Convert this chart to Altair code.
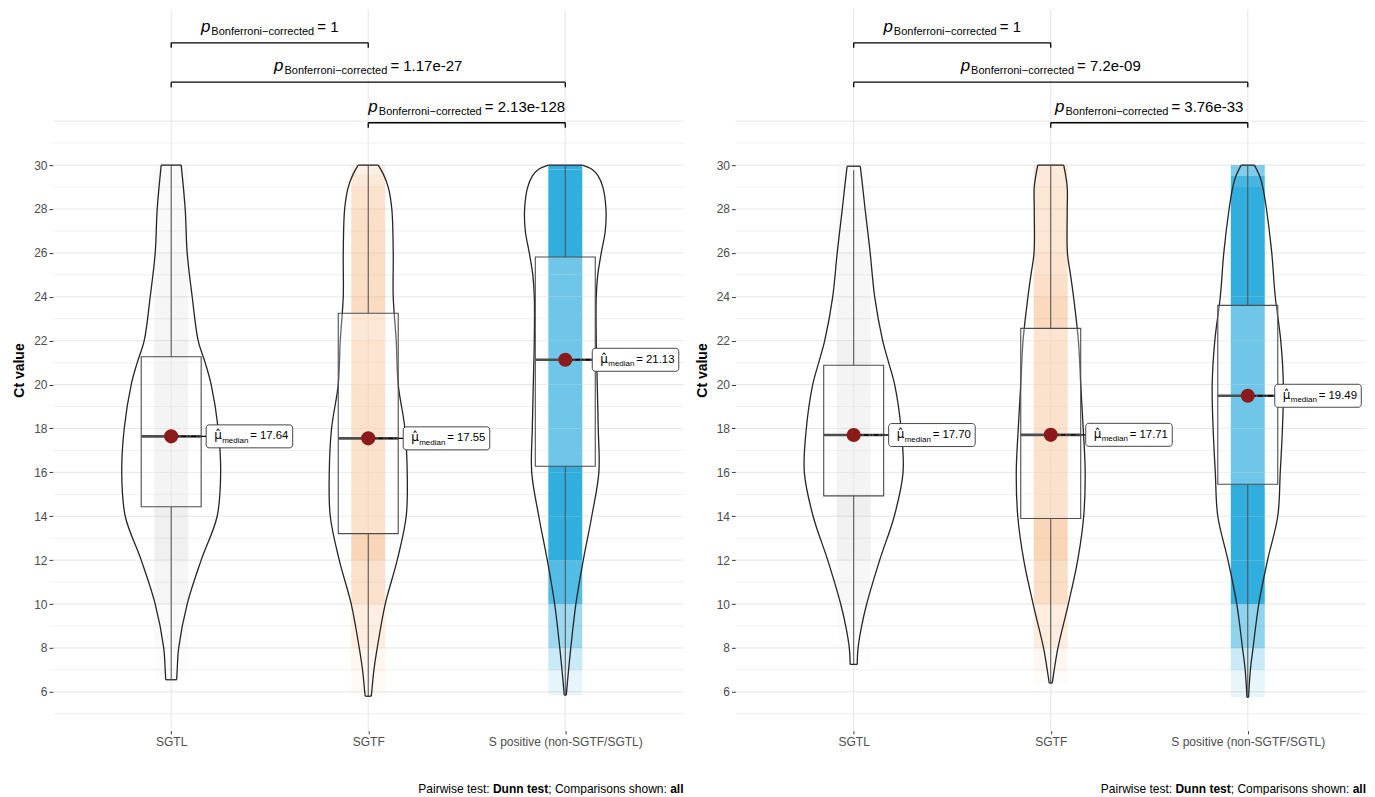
import altair as alt
import pandas as pd

# ---------------------------------------------------------------- data
GROUPS = ["SGTL", "SGTF", "S positive (non-SGTF/SGTL)"]
POINT_COLORS = ["#9a9a9a", "#f4a25e", "#22a8dc"]
POINT_GAIN = [0.2, 0.55, 2.2]       # how dark each jitter cloud looks
POINT_CAP = [0.16, 0.44, 0.93]

# violin outlines: Ct levels and half-width (px)
# left panel
A_SGTL_Y = [6.55, 7, 8, 10, 12, 14, 16, 18, 20, 21, 22, 24, 26, 28, 30]
A_SGTL_W = [5.5, 6, 7.5, 16, 30, 46, 49.5, 47, 40, 34, 27, 21, 16, 14, 10]
A_SGTF_Y = [5.8, 6, 7, 8, 10, 12, 14, 16, 18, 20, 22, 24, 26, 28, 29, 29.6, 30]
A_SGTF_W = [3, 3.5, 5.7, 9, 17, 29, 38, 39, 36.7, 30, 28, 25, 25, 23.6, 20, 15, 10]
A_SPOS_Y = [5.85, 7, 8, 10, 12, 14, 16, 18, 20, 22, 24, 25, 26, 27, 28, 29, 29.5, 29.8, 30]
A_SPOS_W = [1, 3.3, 5.5, 10.6, 18, 26.5, 33.6, 33, 32, 31, 31, 32.5, 36, 40, 40.7, 37.6, 33, 27, 17]
# right panel
B_SGTL_Y = [7.25, 8, 9, 10, 12, 14, 16, 18, 20, 21, 22, 24, 26, 28, 29, 29.95]
B_SGTL_W = [3.5, 4.4, 8, 13, 26, 40.6, 49.4, 47.4, 41, 35, 29, 21, 16.5, 11.4, 9, 6.6]
B_SGTF_Y = [6.4, 7, 8, 10, 12, 14, 16, 18, 20, 22, 24, 25, 26, 28, 29, 30]
B_SGTF_W = [1.5, 3.5, 7.2, 17.6, 27, 33, 34.5, 32.5, 30, 27.7, 22.8, 19.8, 16.7, 16.5, 16.5, 13]
B_SPOS_Y = [5.75, 7, 8, 10, 12, 14, 16, 18, 20, 22, 24, 26, 28, 29, 29.5, 30]
B_SPOS_W = [0.8, 2.6, 5.3, 11, 19.8, 30, 32.5, 34.7, 35.6, 33, 27.5, 24, 18.7, 15, 11.9, 6.6]

# box-plot statistics: min, Q1, median, Q3, max
A_MIN = [6.55, 5.8, 5.85]
A_Q1 = [14.43, 13.21, 16.28]
A_MED = [17.64, 17.55, 21.13]
A_Q3 = [21.27, 23.25, 25.81]
A_MAX = [30, 30, 30]
B_MIN = [7.25, 6.4, 5.75]
B_Q1 = [14.93, 13.9, 15.46]
B_MED = [17.70, 17.71, 19.49]
B_Q3 = [20.88, 22.56, 23.61]
B_MAX = [29.77, 30, 30]

# pairwise comparisons
PAIRS = [(0, 1), (0, 2), (1, 2)]
BRACKET_Y = [35.57, 33.78, 31.93]
A_P = ["1", "1.17e-27", "2.13e-128"]
B_P = ["1", "7.2e-09", "3.76e-33"]

GRID_Y = list(range(5, 33))
Y_TICKS = list(range(6, 31, 2))

# ---------------------------------------------------------------- layout
W, H = 631, 722
X_DOM = [-0.6, 2.6]
Y_DOM = [4.226, 37.10]
PX = W / (X_DOM[1] - X_DOM[0])
FONT = "Liberation Sans"
LABEL_DX = [35, 35, 27]

AR = {' ': 278, ':': 278, ';': 278, '.': 278, '-': 333, '=': 584, '\u2212': 584,
      'e': 556, 'P': 667, 'a': 556, 'i': 222, 'r': 333, 'w': 722, 's': 500, 't': 278,
      'C': 722, 'o': 556, 'm': 833, 'p': 556, 'n': 556, 'h': 556, 'B': 667, 'f': 278,
      'c': 500, 'd': 556, 'l': 222}
ARB = {' ': 278, 'D': 722, 'u': 611, 'n': 611, 't': 333, 'e': 556, 's': 556, 'a': 556, 'l': 278}


def tw(s, size, bold=False):
    tab = ARB if bold else AR
    return sum(tab.get(c, 556) for c in s) * size / 1000.0


xs = alt.Scale(domain=X_DOM, nice=False, zero=False)
ys = alt.Scale(domain=Y_DOM, nice=False, zero=False)
x_axis = alt.Axis(values=[0, 1, 2], title=None, grid=False, domain=False, ticks=True,
                  tickSize=3, tickColor="#333333", labelPadding=3, labelFontSize=12,
                  labelColor="#4D4D4D", labelFont=FONT, labelFlush=False, labelOverlap=False,
                  labelExpr="['SGTL','SGTF','S positive (non-SGTF/SGTL)'][datum.value]")
y_axis = alt.Axis(values=Y_TICKS, title="Ct value", grid=False, domain=False, ticks=True,
                  tickSize=4, tickColor="#333333", labelPadding=2, labelFontSize=12,
                  labelColor="#4D4D4D", labelFont=FONT, titleFont=FONT, titleFontSize=14,
                  titleFontWeight="bold", titleColor="black", titlePadding=7)


def X(f):
    return alt.X(f"{f}:Q", scale=xs, axis=x_axis)


def Y(f):
    return alt.Y(f"{f}:Q", scale=ys, axis=y_axis)


def panel(vy, vw, mn, q1, med, q3, mx, pvals):
    lrows, erows, crows = [], [], []
    for g in range(3):
        m = max(vw[g])
        for side, sgn in ((0, -1), (1, 1)):
            for y, w in zip(vy[g], vw[g]):
                lrows.append(dict(key=g * 2 + side, y=y, x=g + sgn * w / PX))
        for k in (0, -1):
            w = vw[g][k]
            erows.append(dict(y=vy[g][k], lo=g - w / PX, hi=g + w / PX))
        for i in range(len(vy[g]) - 1):
            w = (vw[g][i] + vw[g][i + 1]) / 2
            crows.append(dict(g=g, y=vy[g][i], y2=vy[g][i + 1], grp=GROUPS[g],
                              a=min(POINT_CAP[g], POINT_GAIN[g] * w / m)))
    ldf = pd.DataFrame(lrows)
    edf = pd.DataFrame(erows)
    cdf = pd.DataFrame(crows)
    sdf = pd.DataFrame(dict(g=[0, 1, 2], mn=mn, q1=q1, med=med, q3=q3, mx=mx,
                            lab=[f"= {v:.2f}" for v in med]))
    bdf = pd.DataFrame(dict(x1=[p[0] for p in PAIRS], x2=[p[1] for p in PAIRS],
                            y=BRACKET_Y, mid=[(p[0] + p[1]) / 2 for p in PAIRS],
                            val=["= " + p for p in pvals], i=[0, 1, 2]))
    gdf = pd.DataFrame(dict(v=GRID_Y, major=[v % 2 == 0 for v in GRID_Y]))
    xdf = pd.DataFrame(dict(g=[0, 1, 2]))

    layers = []
    layers.append(alt.Chart(gdf).mark_rule(strokeWidth=1).encode(
        y=Y("v"), x=alt.value(0), x2=alt.value(W),
        color=alt.condition("datum.major", alt.value("#E6E6E6"), alt.value("#EFEFEF"))))
    layers.append(alt.Chart(xdf).mark_rule(strokeWidth=1, color="#E6E6E6").encode(
        x=X("g"), y=alt.value(0), y2=alt.value(H)))
    # jitter clouds
    layers.append(alt.Chart(cdf).mark_rect(xOffset=-17, x2Offset=17, strokeWidth=0).encode(
        x=X("g"), x2=alt.X2("g"), y=Y("y"), y2=alt.Y2("y2"),
        color=alt.Color("grp:N", scale=alt.Scale(domain=GROUPS, range=POINT_COLORS), legend=None),
        opacity=alt.Opacity("a:Q", scale=None)))
    # violins: two curved sides and flat ends
    layers.append(alt.Chart(ldf).mark_line(interpolate="catmull-rom", color="#262626",
                                            strokeWidth=1.3).encode(
        x=X("x"), y=Y("y"), detail="key:N", order="y:Q"))
    layers.append(alt.Chart(edf).mark_rule(color="#262626", strokeWidth=1.3).encode(
        x=X("lo"), x2=alt.X2("hi"), y=Y("y")))
    # whiskers
    layers.append(alt.Chart(sdf).mark_rule(color="#4d4d4d", strokeWidth=1).encode(
        x=X("g"), y=Y("mn"), y2=alt.Y2("q1")))
    layers.append(alt.Chart(sdf).mark_rule(color="#4d4d4d", strokeWidth=1).encode(
        x=X("g"), y=Y("q3"), y2=alt.Y2("mx")))
    # boxes
    layers.append(alt.Chart(sdf).mark_rect(xOffset=-30, x2Offset=30, fill="white", fillOpacity=0.3,
                                            stroke="#4d4d4d", strokeWidth=1.1).encode(
        x=X("g"), x2=alt.X2("g"), y=Y("q1"), y2=alt.Y2("q3")))
    layers.append(alt.Chart(sdf).mark_rule(xOffset=-30, x2Offset=30, color="#4d4d4d",
                                            strokeWidth=2.6).encode(
        x=X("g"), x2=alt.X2("g"), y=Y("med")))
    # median labels
    for g in range(3):
        dx = LABEL_DX[g]
        one = alt.Chart(sdf).transform_filter(f"datum.g == {g}")
        layers.append(one.mark_rule(x2Offset=dx, color="black", strokeWidth=1.4,
                                    strokeDash=[5, 2, 1, 2]).encode(
            x=X("g"), x2=alt.X2("g"), y=Y("med")))
        layers.append(one.mark_rect(xOffset=dx, x2Offset=dx + 86.6, yOffset=-11.5, y2Offset=11.5,
                                    fill="white", stroke="#333333", strokeWidth=0.9,
                                    cornerRadius=3).encode(
            x=X("g"), x2=alt.X2("g"), y=Y("med"), y2=alt.Y2("med")))
        layers.append(one.mark_text(align="left", baseline="alphabetic", dx=dx + 8, dy=3,
                                    fontSize=12, font="DejaVu Sans", color="black").encode(
            x=X("g"), y=Y("med"), text=alt.value("\u03bc\u0302")))
        layers.append(one.mark_text(align="left", baseline="alphabetic", dx=dx + 16, dy=6.5,
                                    fontSize=8, font=FONT, color="black").encode(
            x=X("g"), y=Y("med"), text=alt.value("median")))
        layers.append(one.mark_text(align="left", baseline="alphabetic", dx=dx + 44, dy=3,
                                    fontSize=11.4, font=FONT, color="black").encode(
            x=X("g"), y=Y("med"), text="lab:N"))
    # median dots
    layers.append(alt.Chart(sdf).mark_circle(size=200, color="#8B1A1A", opacity=1).encode(
        x=X("g"), y=Y("med")))
    # brackets
    layers.append(alt.Chart(bdf).mark_rule(color="black", strokeWidth=1.3).encode(
        x=X("x1"), x2=alt.X2("x2"), y=Y("y")))
    for f in ("x1", "x2"):
        layers.append(alt.Chart(bdf).mark_rule(color="black", strokeWidth=1.3, y2Offset=5).encode(
            x=X(f), y=Y("y"), y2=alt.Y2("y")))
    sub = "Bonferroni\u2212corrected"
    pw, sw = tw("p", 17), tw(sub, 11)
    for i, pv in enumerate(pvals):
        vw_ = tw("= " + pv, 15)
        start = -(pw + 1 + sw + 3 + vw_) / 2
        one = alt.Chart(bdf).transform_filter(f"datum.i == {i}")
        layers.append(one.mark_text(align="left", baseline="alphabetic", dx=start, dy=-11,
                                    fontSize=17, fontStyle="italic", font=FONT, color="black").encode(
            x=X("mid"), y=Y("y"), text=alt.value("p")))
        layers.append(one.mark_text(align="left", baseline="alphabetic", dx=start + pw + 1, dy=-8,
                                    fontSize=11, font=FONT, color="black").encode(
            x=X("mid"), y=Y("y"), text=alt.value(sub)))
        layers.append(one.mark_text(align="left", baseline="alphabetic", dx=start + pw + 1 + sw + 3,
                                    dy=-11, fontSize=15, font=FONT, color="black").encode(
            x=X("mid"), y=Y("y"), text="val:N"))
    # caption (right-aligned, built from right to left)
    one_row = pd.DataFrame(dict(k=[0]))
    pieces = [("Pairwise test:", False, True), ("Dunn test", True, False),
              ("; Comparisons shown:", False, True), ("all", True, False)]
    fs = 12
    off = 0.0
    for txt, bold, space_after in reversed(pieces):
        if space_after:
            off += tw(" ", fs)
        layers.append(alt.Chart(one_row).mark_text(
            align="right", baseline="alphabetic", dx=-off, fontSize=fs, font=FONT,
            fontWeight="bold" if bold else "normal", color="black").encode(
            x=alt.value(W), y=alt.value(H + 62), text=alt.value(txt)))
        off += tw(txt, fs, bold)
    return alt.layer(*layers).properties(
        width=W, height=H, view=alt.ViewBackground(stroke="transparent", strokeWidth=0))


left = panel([A_SGTL_Y, A_SGTF_Y, A_SPOS_Y], [A_SGTL_W, A_SGTF_W, A_SPOS_W],
             A_MIN, A_Q1, A_MED, A_Q3, A_MAX, A_P)
right = panel([B_SGTL_Y, B_SGTF_Y, B_SPOS_Y], [B_SGTL_W, B_SGTF_W, B_SPOS_W],
              B_MIN, B_Q1, B_MED, B_Q3, B_MAX, B_P)

chart = alt.hconcat(left, right, spacing=10).properties(
    padding={"left": 4, "top": 0, "right": 0, "bottom": 0}
).configure_view(stroke="transparent", strokeWidth=0).configure(background="white")

chart.save("out.html", embed_options={"renderer": "svg", "actions": False})
